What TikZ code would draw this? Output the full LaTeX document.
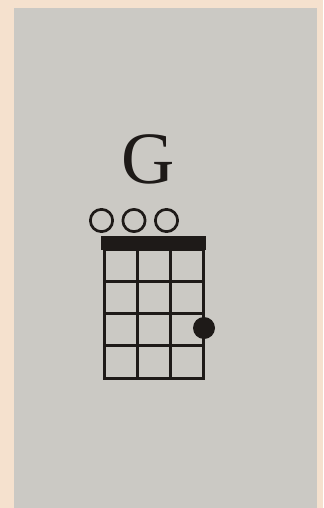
\documentclass[tikz,border=0pt]{standalone}
\usepackage{fontspec}
\setmainfont{Liberation Serif}
\definecolor{peach}{HTML}{F5E1CE}
\definecolor{paper}{HTML}{CBC9C4}
\definecolor{ink}{HTML}{1E1A18}
\tikzset{
  every picture/.style={line join=round, line cap=round},
  fretline/.style={line width=1.5mm, ink, line cap=rect},
  openstring/.style={circle, draw=ink, line width=1.35mm, minimum size=11.15mm, inner sep=0pt},
  finger/.style={circle, fill=ink, minimum size=11mm, inner sep=0pt},
}

\begin{document}
\begin{tikzpicture}[x=0.5mm,y=-0.5mm]
\fill[peach] (0,0) rectangle (323,508);
\fill[paper] (14,8) rectangle (317,508);
\useasboundingbox (0,0) rectangle (323,508);
\node[anchor=base,inner sep=0pt,ink,font=\fontsize{105}{105}\selectfont] (chord) at (148,183) {G};
\fill[ink] (101,236) rectangle (206,250);
\foreach \s in {0,1,2,3}
  \draw[fretline] (104+33*\s,249) -- (104+33*\s,378);
\foreach \f in {0,1,2,3,4}
  \draw[fretline] (104,249+32.25*\f) -- (203,249+32.25*\f);
\foreach \s/\n in {0/o1,1/o2,2/o3}
  \node[openstring] (\n) at (101.5+32.5*\s,220.5) {};
\node[finger] (g3) at (204,328) {};
\end{tikzpicture}
\end{document}
